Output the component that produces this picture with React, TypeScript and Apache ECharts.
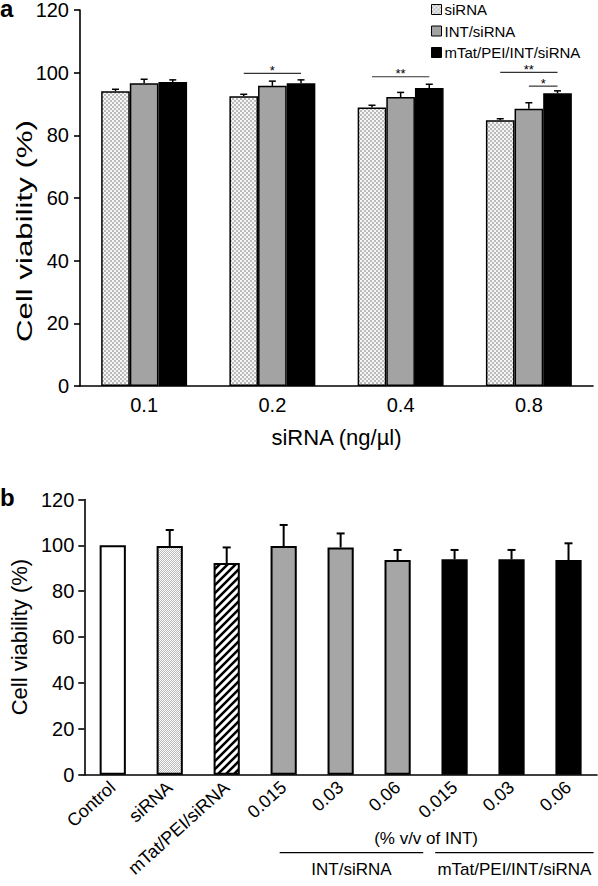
import React, { useEffect, useRef } from 'react';
import * as echarts from 'echarts';

// ---------- Panel a data ----------
const concentrations = ['0.1', '0.2', '0.4', '0.8'];
const seriesNames = ['siRNA', 'INT/siRNA', 'mTat/PEI/INT/siRNA'];
const siRNAValues = [94.1, 92.5, 88.9, 84.8];
const siRNAErrors = [0.6, 0.6, 0.7, 0.5];
const intValues = [96.6, 95.8, 92.2, 88.5];
const intErrors = [1.3, 1.5, 1.5, 1.9];
const mtatValues = [97.0, 96.6, 95.1, 93.4];
const mtatErrors = [0.7, 1.1, 1.2, 0.8];
const yAxisTitle = 'Cell viability (%)';

// significance brackets: category, from bar, to bar, level (%), stars
const sigCategory = [1, 2, 3, 3];
const sigFrom = [0, 0, 0, 1];
const sigTo = [2, 2, 2, 2];
const sigLevel = [99.8, 98.7, 100.1, 95.7];
const sigStars = ['*', '**', '**', '*'];

// ---------- Panel b data ----------
const groupsB = ['Control', 'siRNA', 'mTat/PEI/siRNA', '0.015', '0.03', '0.06', '0.015', '0.03', '0.06'];
const valuesB = [100, 99.7, 92.3, 99.7, 99.1, 93.6, 93.9, 93.9, 93.6];
const errorsB = [0, 7.0, 6.8, 9.2, 6.1, 4.4, 4.1, 4.1, 7.3];
const fillB = ['white', 'dots', 'hatch', 'gray', 'gray', 'gray', 'black', 'black', 'black'];
const bracketLabels = ['INT/siRNA', 'mTat/PEI/INT/siRNA'];
const bracketStart = [2.93, 5.66];
const bracketEnd = [5.45, 8.44];
const unitLabel = '(% v/v of INT)';
const unitCenter = 5.5;

const FONT = '"Liberation Sans", Arial, Helvetica, sans-serif';

function makeChecker(cell: number, light: string, dark: string) {
  const c = document.createElement('canvas');
  c.width = cell * 2;
  c.height = cell * 2;
  const ctx = c.getContext('2d')!;
  ctx.fillStyle = light;
  ctx.fillRect(0, 0, cell * 2, cell * 2);
  ctx.fillStyle = dark;
  ctx.fillRect(cell, 0, cell, cell);
  ctx.fillRect(0, cell, cell, cell);
  return { image: c, repeat: 'repeat', imageWidth: cell * 2, imageHeight: cell * 2 } as any;
}

function makeHatch(size: number, lw: number) {
  const c = document.createElement('canvas');
  c.width = size;
  c.height = size;
  const ctx = c.getContext('2d')!;
  ctx.fillStyle = '#ffffff';
  ctx.fillRect(0, 0, size, size);
  ctx.strokeStyle = '#000000';
  ctx.lineWidth = lw;
  ctx.beginPath();
  ctx.moveTo(-1, size + 1);
  ctx.lineTo(size + 1, -1);
  ctx.moveTo(-size / 2 - 1, size / 2 + 1);
  ctx.lineTo(size / 2 + 1, -size / 2 - 1);
  ctx.moveTo(size / 2 - 1, size * 1.5 + 1);
  ctx.lineTo(size * 1.5 + 1, size / 2 - 1);
  ctx.stroke();
  return { image: c, repeat: 'repeat', imageWidth: size, imageHeight: size } as any;
}

export default function App() {
  const ref = useRef<HTMLDivElement>(null);

  useEffect(() => {
    if (!ref.current) return;
    const chart = echarts.init(ref.current, undefined, { renderer: 'svg' });

    const dotsA = makeChecker(2, '#f6f6f6', '#bababa');
    const dotsB = makeChecker(1, '#fafafa', '#bcbcbc');
    const hatch = makeHatch(8, 2.6);
    const grayA = '#a3a3a3';
    const fillsA = [dotsA, grayA, '#000000'];
    const valuesA = [siRNAValues, intValues, mtatValues];
    const errorsA = [siRNAErrors, intErrors, mtatErrors];
    const gapA = 0.33;

    const fillMap: Record<string, any> = {
      white: '#ffffff',
      dots: dotsB,
      hatch: hatch,
      gray: '#a6a6a6',
      black: '#000000',
    };

    const errDataA: number[][] = [];
    valuesA.forEach((vals, s) => {
      vals.forEach((v, c) => errDataA.push([c, v, errorsA[s][c], s]));
    });

    const sigData = sigCategory.map((c, i) => [c, sigLevel[i], i]);

    const axisLineStyle = { color: '#000', width: 1.6 };

    const option: any = {
      animation: false,
      backgroundColor: '#ffffff',
      textStyle: { fontFamily: FONT },
      title: [
        { text: 'a', left: 0, top: 0, padding: 0, textStyle: { fontSize: 24, lineHeight: 16, fontWeight: 'bold', color: '#000', fontFamily: FONT } },
        { text: 'b', left: 0, top: 489, padding: 0, textStyle: { fontSize: 24, lineHeight: 16, fontWeight: 'bold', color: '#000', fontFamily: FONT } },
      ],
      graphic: [
        {
          type: 'text',
          x: 25,
          y: 231,
          rotation: Math.PI / 2,
          scaleX: 1.42,
          style: {
            text: yAxisTitle,
            fontSize: 22,
            fontFamily: FONT,
            fill: '#000',
            align: 'center',
            verticalAlign: 'middle',
          },
        },
      ],
      legend: {
        data: seriesNames,
        orient: 'vertical',
        left: 426,
        top: -3,
        itemWidth: 10,
        itemHeight: 10,
        itemGap: 6.5,
        icon: 'rect',
        itemStyle: { borderColor: '#000', borderWidth: 1 },
        textStyle: { fontSize: 15, color: '#000', fontFamily: FONT, padding: [0, 0, 0, -2] },
      },
      grid: [
        { left: 80, right: 5, top: 10, bottom: 500 },
        { left: 77, right: 1, top: 499.5, bottom: 111.3 },
      ],
      xAxis: [
        {
          type: 'category',
          gridIndex: 0,
          data: concentrations,
          name: 'siRNA (ng/µl)',
          nameLocation: 'middle',
          nameGap: 40,
          nameTextStyle: { fontSize: 22, color: '#000', fontFamily: FONT },
          axisLine: { lineStyle: axisLineStyle },
          axisTick: { length: 6, lineStyle: axisLineStyle },
          axisLabel: { fontSize: 20, color: '#000', margin: 9, fontFamily: FONT },
        },
        {
          type: 'category',
          gridIndex: 1,
          data: groupsB,
          axisLine: { lineStyle: axisLineStyle },
          axisTick: { length: 6, lineStyle: axisLineStyle },
          axisLabel: { fontSize: 18, color: '#000', margin: 10, rotate: 42, interval: 0, fontFamily: FONT },
        },
      ],
      yAxis: [
        {
          type: 'value',
          gridIndex: 0,
          min: 0,
          max: 120,
          interval: 20,
          splitLine: { show: false },
          axisLine: { show: true, lineStyle: axisLineStyle },
          axisTick: { show: true, length: 6, lineStyle: axisLineStyle },
          axisLabel: { fontSize: 20, color: '#000', margin: 11, fontFamily: FONT },
        },
        {
          type: 'value',
          gridIndex: 1,
          min: 0,
          max: 120,
          interval: 20,
          name: yAxisTitle,
          nameLocation: 'middle',
          nameGap: 42,
          nameTextStyle: { fontSize: 22, color: '#000', fontFamily: FONT },
          splitLine: { show: false },
          axisLine: { show: true, lineStyle: axisLineStyle },
          axisTick: { show: true, length: 6, lineStyle: axisLineStyle },
          axisLabel: { fontSize: 20, color: '#000', margin: 10, fontFamily: FONT },
        },
      ],
      series: [
        ...seriesNames.map((name, s) => ({
          type: 'bar',
          name,
          xAxisIndex: 0,
          yAxisIndex: 0,
          data: valuesA[s],
          barGap: '0%',
          barCategoryGap: gapA * 100 + '%',
          itemStyle: { color: fillsA[s], borderColor: '#000', borderWidth: 1.5 },
        })),
        {
          type: 'custom',
          name: 'errA',
          xAxisIndex: 0,
          yAxisIndex: 0,
          data: errDataA,
          encode: { x: 0, y: 1 },
          z: 3,
          renderItem: (params: any, api: any) => {
            const c = api.value(0);
            const v = api.value(1);
            const e = api.value(2);
            const s = api.value(3);
            const band = api.size([1, 0])[0];
            const bw = (band * (1 - gapA)) / 3;
            const cx = api.coord([c, 0])[0] + (s - 1) * bw;
            const yb = api.coord([c, v])[1];
            const yt = api.coord([c, v + e])[1];
            const st = { stroke: '#000', lineWidth: 1.5 };
            return {
              type: 'group',
              children: [
                { type: 'line', shape: { x1: cx, y1: yb, x2: cx, y2: yt }, style: st },
                { type: 'line', shape: { x1: cx - 3.5, y1: yt, x2: cx + 3.5, y2: yt }, style: st },
              ],
            };
          },
        },
        {
          type: 'custom',
          name: 'sig',
          xAxisIndex: 0,
          yAxisIndex: 0,
          data: sigData,
          encode: { x: 0, y: 1 },
          z: 3,
          renderItem: (params: any, api: any) => {
            const i = params.dataIndex;
            const c = api.value(0);
            const lvl = api.value(1);
            const band = api.size([1, 0])[0];
            const bw = (band * (1 - gapA)) / 3;
            const center = api.coord([c, 0])[0];
            const x1 = center + (sigFrom[i] - 1) * bw;
            const x2 = center + (sigTo[i] - 1) * bw;
            const y = api.coord([c, lvl])[1];
            return {
              type: 'group',
              children: [
                { type: 'line', shape: { x1, y1: y, x2, y2: y }, style: { stroke: '#333', lineWidth: 1.2 } },
                {
                  type: 'text',
                  x: (x1 + x2) / 2,
                  y: y - 3,
                  style: {
                    text: sigStars[i],
                    fontSize: 13,
                    fontFamily: FONT,
                    fill: '#000',
                    align: 'center',
                    verticalAlign: 'middle',
                  },
                },
              ],
            };
          },
        },
        {
          type: 'bar',
          name: 'panelB',
          xAxisIndex: 1,
          yAxisIndex: 1,
          barCategoryGap: '54%',
          data: valuesB.map((v, i) => ({
            value: v,
            itemStyle: { color: fillMap[fillB[i]], borderColor: '#000', borderWidth: 2 },
          })),
        },
        {
          type: 'custom',
          name: 'errB',
          xAxisIndex: 1,
          yAxisIndex: 1,
          data: valuesB.map((v, i) => [i, v, errorsB[i]]),
          encode: { x: 0, y: 1 },
          z: 3,
          renderItem: (params: any, api: any) => {
            const c = api.value(0);
            const v = api.value(1);
            const e = api.value(2);
            if (!(e > 0)) return null;
            const cx = api.coord([c, 0])[0];
            const yb = api.coord([c, v])[1];
            const yt = api.coord([c, v + e])[1];
            const st = { stroke: '#000', lineWidth: 2 };
            return {
              type: 'group',
              children: [
                { type: 'line', shape: { x1: cx, y1: yb, x2: cx, y2: yt }, style: st },
                { type: 'line', shape: { x1: cx - 4, y1: yt, x2: cx + 4, y2: yt }, style: st },
              ],
            };
          },
        },
        {
          type: 'custom',
          name: 'bracketsB',
          xAxisIndex: 1,
          yAxisIndex: 1,
          clip: false,
          data: bracketLabels.map((_, i) => [i, 0]),
          encode: { x: 0, y: 1 },
          renderItem: (params: any, api: any) => {
            const i = params.dataIndex;
            const band = api.size([1, 0])[0];
            const origin = api.coord([0, 0]);
            const xOf = (idx: number) => origin[0] + idx * band;
            const axisY = origin[1];
            const x1 = xOf(bracketStart[i]);
            const x2 = xOf(bracketEnd[i]);
            const children: any[] = [
              { type: 'line', shape: { x1, y1: axisY + 78, x2, y2: axisY + 78 }, style: { stroke: '#000', lineWidth: 1.2 } },
              {
                type: 'text',
                x: (x1 + x2) / 2,
                y: axisY + 95,
                style: { text: bracketLabels[i], fontSize: 17, fontFamily: FONT, fill: '#000', align: 'center', verticalAlign: 'middle' },
              },
            ];
            if (i === 0) {
              children.push({
                type: 'text',
                x: xOf(unitCenter),
                y: axisY + 64,
                style: { text: unitLabel, fontSize: 17, fontFamily: FONT, fill: '#000', align: 'center', verticalAlign: 'middle' },
              });
            }
            return { type: 'group', children };
          },
        },
      ],
    };

    chart.setOption(option);
    return () => chart.dispose();
  }, []);

  return (
    <div
      ref={ref}
      style={{ position: 'absolute', left: 0, top: 0, width: 598, height: 886, background: '#fff' }}
    />
  );
}
